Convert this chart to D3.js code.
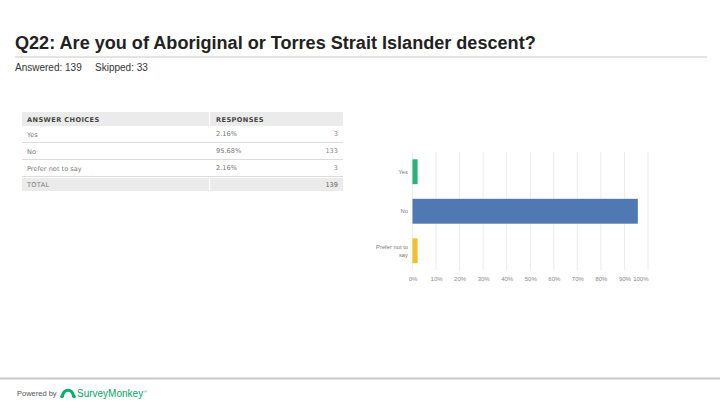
<!DOCTYPE html>
<html><head><meta charset="utf-8">
<script src="https://cdn.jsdelivr.net/npm/d3@7/dist/d3.min.js"></script>
<style>html,body{margin:0;padding:0;background:#fff;}svg{display:block;}</style>
</head><body>
<script>
const categories = ["Yes", "No", "Prefer not to say"];
const categoryLines = [["Yes"], ["No"], ["Prefer not to", "say"]];
const percents = [2.16, 95.68, 2.16];
const percentLabels = ["2.16%", "95.68%", "2.16%"];
const counts = [3, 133, 3];
const totalAnswered = 139;
const skipped = 33;
const tickValues = [0, 10, 20, 30, 40, 50, 60, 70, 80, 90, 100];
const barColors = ["#26b574", "#5079b3", "#efc12b"];

const W = 720, H = 405;
const svg = d3.select("body").append("svg").attr("width", W).attr("height", H);

// Title
const title = svg.append("text").attr("x", 15).attr("y", 49)
  .attr("font-family", "Liberation Sans, Arial, sans-serif").attr("font-weight", "bold")
  .attr("font-size", 17).attr("fill", "#222")
  .text("Q22: Are you of Aboriginal or Torres Strait Islander descent?");
const tw = title.node().getComputedTextLength();
title.attr("font-size", 17 * 521 / tw);
svg.append("line").attr("x1", 15).attr("x2", 707).attr("y1", 57).attr("y2", 57)
  .attr("stroke", "#c8c8c8").attr("stroke-width", 1);
svg.append("text").attr("x", 15).attr("y", 71).attr("font-family", "Liberation Sans, Arial, sans-serif")
  .attr("font-size", 10).attr("fill", "#333").text("Answered: " + totalAnswered);
svg.append("text").attr("x", 95).attr("y", 71).attr("font-family", "Liberation Sans, Arial, sans-serif")
  .attr("font-size", 10).attr("fill", "#333").text("Skipped: " + skipped);

// Table
const tX0 = 22, tX1 = 343, tSplit = 210;
const tf = "DejaVu Sans, sans-serif";
const tbl = svg.append("g");
tbl.append("rect").attr("x", tX0).attr("y", 112).attr("width", tSplit - tX0 - 1).attr("height", 14).attr("fill", "#ebebeb");
tbl.append("rect").attr("x", tSplit).attr("y", 112).attr("width", tX1 - tSplit).attr("height", 14).attr("fill", "#ebebeb");
tbl.append("text").attr("x", 27).attr("y", 122).attr("font-family", tf).attr("font-weight", "bold")
  .attr("font-size", 6.6).attr("letter-spacing", 0.4).attr("fill", "#444").text("ANSWER CHOICES");
tbl.append("text").attr("x", 216).attr("y", 122).attr("font-family", tf).attr("font-weight", "bold")
  .attr("font-size", 6.6).attr("letter-spacing", 0.4).attr("fill", "#444").text("RESPONSES");
const rowY = d3.scaleBand().domain(categories).range([126, 177]);
categories.forEach((c, i) => {
  const y0 = rowY(c), y1 = y0 + rowY.bandwidth();
  tbl.append("line").attr("x1", tX0).attr("x2", tX1).attr("y1", y1 - 0.5).attr("y2", y1 - 0.5)
    .attr("stroke", "#dcdcdc").attr("stroke-width", 1);
  const by = y0 + rowY.bandwidth() / 2 + 2.5;
  tbl.append("text").attr("x", 27).attr("y", by).attr("font-family", tf).attr("font-size", 6.6)
    .attr("fill", "#777").text(c);
  tbl.append("text").attr("x", 216).attr("y", by - 1.5).attr("font-family", tf).attr("font-size", 6.6)
    .attr("fill", "#777").text(percentLabels[i]);
  tbl.append("text").attr("x", 338).attr("y", by - 1.5).attr("text-anchor", "end").attr("font-family", tf)
    .attr("font-size", 6.6).attr("fill", "#888").text(counts[i]);
});
tbl.append("rect").attr("x", tX0).attr("y", 178).attr("width", tSplit - tX0 - 1).attr("height", 13).attr("fill", "#ebebeb");
tbl.append("rect").attr("x", tSplit).attr("y", 178).attr("width", tX1 - tSplit).attr("height", 13).attr("fill", "#ebebeb");
tbl.append("text").attr("x", 27).attr("y", 187).attr("font-family", tf).attr("font-size", 6.6)
  .attr("letter-spacing", 0.3).attr("fill", "#777").text("TOTAL");
tbl.append("text").attr("x", 338).attr("y", 187).attr("text-anchor", "end").attr("font-family", tf)
  .attr("font-size", 6.6).attr("fill", "#666").text(totalAnswered);

// Bar chart
const x = d3.scaleLinear().domain([0, 100]).range([412.5, 648]);
const y = d3.scaleBand().domain(categories).range([152, 270.5]).paddingInner(0.37).paddingOuter(0.185);
const chart = svg.append("g");
chart.append("g").selectAll("line").data(tickValues).join("line")
  .attr("x1", d => x(d)).attr("x2", d => x(d)).attr("y1", 152).attr("y2", 270.5)
  .attr("stroke", "#ececec").attr("stroke-width", 1);
chart.append("g").selectAll("rect").data(categories).join("rect")
  .attr("x", x(0)).attr("y", d => y(d)).attr("height", y.bandwidth())
  .attr("width", (d, i) => x(percents[i]) - x(0)).attr("fill", (d, i) => barColors[i]);
const xAxis = d3.axisBottom(x).tickValues(tickValues).tickFormat(d => d + "%").tickSize(0).tickPadding(0);
const ax = chart.append("g").attr("transform", "translate(0,277)").call(xAxis);
ax.select(".domain").remove();
ax.selectAll("text").attr("font-family", "Liberation Sans, Arial, sans-serif").attr("font-size", 6).attr("fill", "#888");
ax.selectAll(".tick").filter(d => d === 100).select("text").attr("text-anchor", "end").attr("x", 0);
categories.forEach((c, i) => {
  const lines = categoryLines[i];
  const cy = y(c) + y.bandwidth() / 2;
  const t = chart.append("text").attr("text-anchor", "end").attr("font-family", "Liberation Sans, Arial, sans-serif")
    .attr("font-size", 5.8).attr("fill", "#777");
  lines.forEach((ln, j) => {
    t.append("tspan").attr("x", 408).attr("y", cy + 2 + (j - (lines.length - 1) / 2) * 8.5).text(ln);
  });
});

// Footer
svg.append("line").attr("x1", 0).attr("x2", 720).attr("y1", 378.5).attr("y2", 378.5)
  .attr("stroke", "#c8c8c8").attr("stroke-width", 2);
svg.append("text").attr("x", 17).attr("y", 396).attr("font-family", "Liberation Sans, Arial, sans-serif")
  .attr("font-size", 7.5).attr("fill", "#555").text("Powered by");
svg.append("path").attr("d", "M61,397 C61,386 75,386 75,397 L72,397 C72,390 64,390 64,397 Z")
  .attr("fill", "#00b26a");
svg.append("circle").attr("cx", 62).attr("cy", 396.5).attr("r", 1.8).attr("fill", "#00b26a");
svg.append("circle").attr("cx", 74).attr("cy", 396.5).attr("r", 1.8).attr("fill", "#00b26a");
svg.append("text").attr("x", 77).attr("y", 397).attr("font-family", "Liberation Sans, Arial, sans-serif")
  .attr("font-size", 10).attr("fill", "#00a862").text("SurveyMonkey");
svg.append("text").attr("x", 144).attr("y", 393).attr("font-family", "Liberation Sans, Arial, sans-serif")
  .attr("font-size", 4).attr("fill", "#00a862").text("®");
</script>
</body></html>
